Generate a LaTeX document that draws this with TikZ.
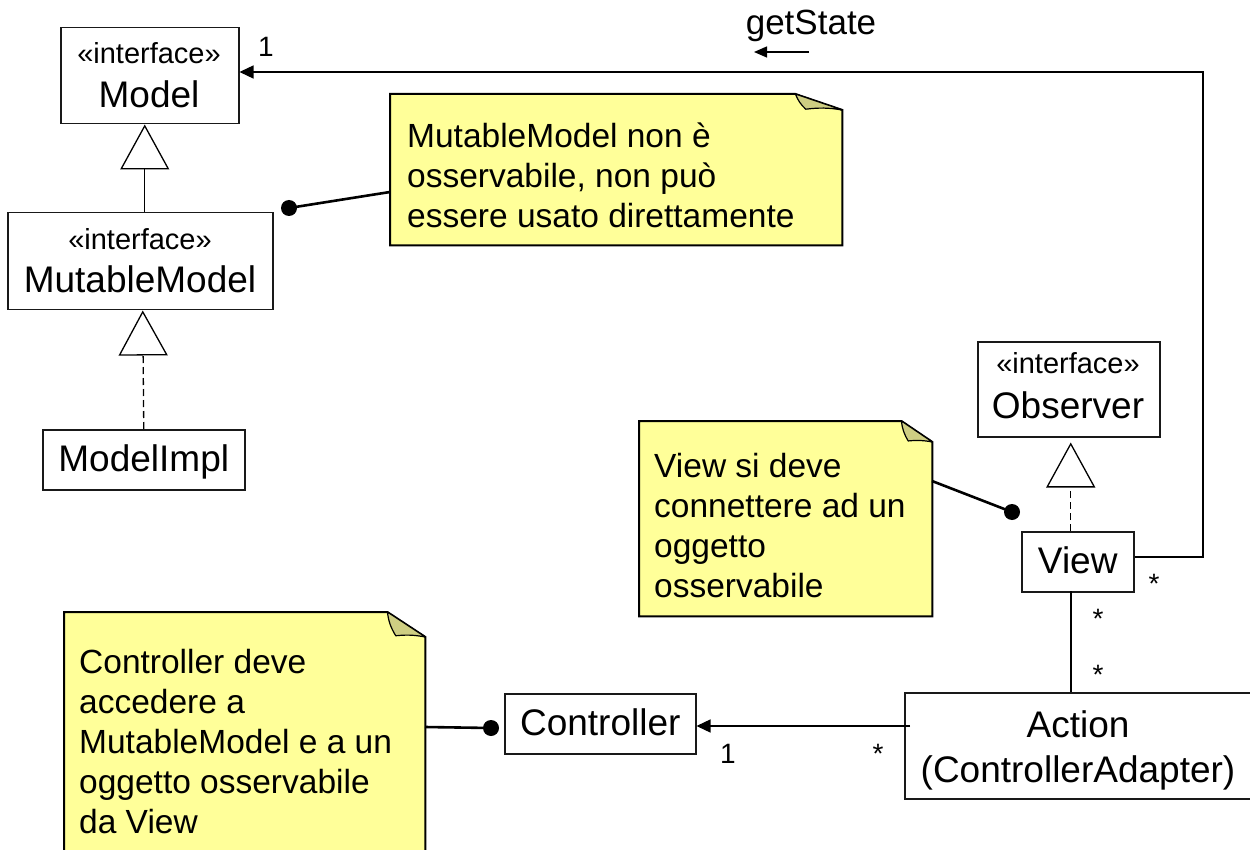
\documentclass[tikz,border=0pt]{standalone}
\usepackage{fontspec}
\setmainfont{Liberation Sans}
\usetikzlibrary{arrows.meta,calc}

\definecolor{notebg}{RGB}{255,255,153}
\definecolor{notefold}{RGB}{206,206,130}
\definecolor{ink}{RGB}{25,25,25}

% folded-corner outline of a note placed on a named rectangle node
% #1 node name, #2 fold width, #3 fold height
\newcommand\umlnote[3]{%
  \filldraw[notebody] (#1.south west) -- (#1.north west)
    -- ([xshift={-#2pt}]#1.north east) -- ([yshift={-#3pt}]#1.north east)
    -- (#1.south east) -- cycle;
  \filldraw[notecorner] ([xshift={-#2pt}]#1.north east)
    to[bend right=12] ([xshift={-0.78*#2pt},yshift={-0.95*#3pt}]#1.north east)
    to[bend left=8] ([yshift={-#3pt}]#1.north east) -- cycle;
}

\begin{document}
\begin{tikzpicture}[x=1pt,y=-1pt,
  cls/.style={draw=ink, line width=1.5pt, rectangle, inner sep=0pt, anchor=north west},
  clsline/.style={cls, font=\fontsize{37}{40}\selectfont, text height=26pt, text depth=2pt},
  stereo/.style={inner sep=0pt, anchor=base, font=\fontsize{29}{32}\selectfont},
  cname/.style={inner sep=0pt, anchor=base, font=\fontsize{37}{40}\selectfont},
  notearea/.style={rectangle, inner sep=0pt, anchor=north west},
  notebody/.style={fill=notebg, draw=black, line width=2pt, line join=miter},
  notecorner/.style={fill=notefold, draw=black, line width=1.2pt, line join=round},
  notetext/.style={inner sep=0pt, anchor=north west, align=left, font=\fontsize{33.5}{40}\selectfont},
  mult/.style={inner sep=0pt, font=\fontsize{28}{30}\selectfont},
  pin/.style={circle, fill=black, inner sep=0pt, minimum size=16pt},
  noteline/.style={line width=2.6pt},
  gen/.style={line width=1.3pt, -{Triangle[open, length=45pt, width=49pt, line width=1.3pt]}},
  real/.style={gen, dash pattern=on 7pt off 4pt},
  assoc/.style={line width=1.3pt, -{Triangle[length=14pt, width=13pt]}},
  link/.style={line width=1.3pt}
]
\useasboundingbox (0,0) rectangle (1250,850);
\clip (0,0) rectangle (1250,850);
\fill[white] (0,0) rectangle (1250,850);

% ---- classes ----
\node[cls, minimum width=178pt, minimum height=96pt] (model) at (60,27) {};
\node[stereo] (modelst) at (149,64) {«interface»};
\node[cname] (modelnm) at (149,108) {Model};

\node[cls, minimum width=265pt, minimum height=97pt] (mm) at (7,212) {};
\node[stereo] (mmst) at (140,250) {«interface»};
\node[cname] (mmnm) at (140,293) {MutableModel};

\node[clsline, minimum width=202pt, minimum height=60pt] (impl) at (42,429) {ModelImpl};

\node[cls, minimum width=182pt, minimum height=95pt] (obs) at (977,341) {};
\node[stereo] (obsst) at (1068,373) {«interface»};
\node[cname] (obsnm) at (1068,418) {Observer};

\node[clsline, minimum width=112pt, minimum height=60pt] (view) at (1021,531) {View};
\node[clsline, minimum width=191pt, minimum height=60pt] (ctrl) at (504,693) {Controller};

\node[cls, minimum width=348pt, minimum height=106pt] (action) at (904,692) {};
\node[cname] (actnm) at (1078,737) {Action};
\node[cname] (actsub) at (1078,782) {(ControllerAdapter)};

% ---- generalisations and realisations ----
\draw[gen] ([xshift=4.5pt]mm.north) -- ([xshift=-5pt]model.south);
\draw[real] (impl.north) -- ([xshift=2.5pt]mm.south);
\draw[real] ([xshift=-7pt]view.north) -- ([xshift=2pt,yshift=-5pt]obs.south);

% ---- associations ----
\coordinate (vr) at (1203,557);
\coordinate (vm) at (1203,72);
\draw[assoc] (view.east |- vr) -- (vr) -- (vm) -- (model.east |- vm);
\node[mult] (m1) at (266,47) {1};
\node[mult] (m2) at (1154,584) {*};

\coordinate (gsa) at (809,52);
\coordinate (gsb) at (754,52);
\draw[line width=1.3pt, -{Triangle[length=13pt, width=11pt]}] (gsa) -- (gsb);
\node[inner sep=0pt, anchor=base, font=\fontsize{35}{38}\selectfont] (gs) at (811,35) {getState};

\coordinate (va) at (1071,591);
\draw[link] (va) -- (va |- action.north);
\node[mult] (m3) at (1098,619) {*};
\node[mult] (m4) at (1098,675) {*};

\coordinate (ae) at (910,726);
\draw[assoc] (ae) -- (ctrl.east |- ae);
\node[mult] (m5) at (728,754) {1};
\node[mult] (m6) at (878,754) {*};

% ---- notes ----
\node[notearea, minimum width=452pt, minimum height=151pt] (n1) at (390,94) {};
\umlnote{n1}{47}{16}
\node[notetext] (n1t) at (407,117) {\vrule height 30pt width 0pt MutableModel non è\\osservabile, non può\\essere usato direttamente};

\node[notearea, minimum width=293pt, minimum height=195pt] (n2) at (639,421) {};
\umlnote{n2}{31}{21}
\node[notetext] (n2t) at (654,447) {\vrule height 30pt width 0pt View si deve\\connettere ad un\\oggetto\\osservabile};

\node[notearea, minimum width=361pt, minimum height=242pt] (n3) at (64,612) {};
\umlnote{n3}{38}{25}
\node[notetext] (n3t) at (79,643) {\vrule height 30pt width 0pt Controller deve\\accedere a\\MutableModel e a un\\oggetto osservabile\\da View};

% ---- note anchors ----
\node[pin] (p1) at (289,208) {};
\node[pin] (p2) at (1012,512) {};
\node[pin] (p3) at (491,728) {};
\coordinate (n1a) at (390,192);
\coordinate (n2a) at (932,481);
\coordinate (n3a) at (425,727);
\draw[noteline] (n1a) -- (p1.center);
\draw[noteline] (n2a) -- (p2.center);
\draw[noteline] (n3a) -- (p3.center);
\end{tikzpicture}
\end{document}
